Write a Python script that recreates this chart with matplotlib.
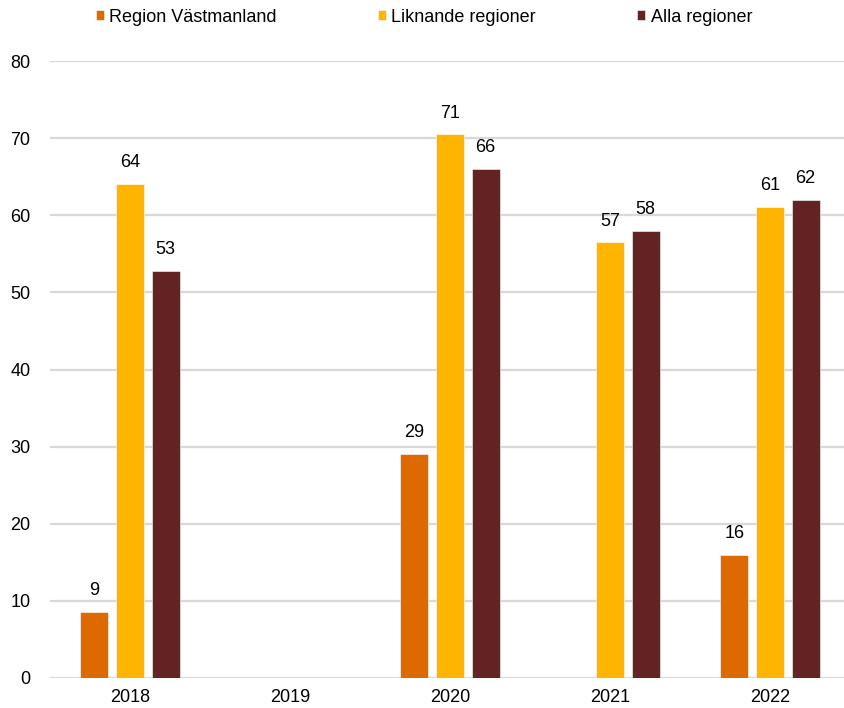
import numpy as np
import matplotlib.pyplot as plt

plt.rcParams['font.family'] = ['Liberation Sans', 'DejaVu Sans']

# data
years = ['2018', '2019', '2020', '2021', '2022']
vastmanland = [8.6, np.nan, 29.1, np.nan, 16.0]
liknande = [64.1, np.nan, 70.5, 56.5, 61.1]
alla = [52.8, np.nan, 66.0, 58.0, 62.0]

series = [('Region Västmanland', vastmanland, '#DD6A00'),
          ('Liknande regioner', liknande, '#FFB500'),
          ('Alla regioner', alla, '#622322')]

fig = plt.figure(figsize=(8.44, 7.08), dpi=100)
ax = fig.add_axes([50/844, 30/708, 800/844, 617/708])

x = np.arange(len(years))
w = 0.175
off = 0.222
for i, (name, vals, col) in enumerate(series):
    vals = np.array(vals, dtype=float)
    bars = ax.bar(x + (i - 1) * off, vals, width=w, color=col, label=name,
                  edgecolor='white', linewidth=0.4, zorder=3)
    labels = ['' if np.isnan(v) else str(int(v + 0.5)) for v in vals]
    ax.bar_label(bars, labels=labels, padding=9, fontsize=13, color='black')

ax.set_xlim(-0.5, 4.5)
ax.set_ylim(0, 80)
ax.set_yticks(range(0, 81, 10))
ax.set_xticks(x)
ax.set_xticklabels(years)
ax.grid(axis='y', color='#D9D9D9', linewidth=1.6, zorder=0)
ax.tick_params(length=0, labelsize=13, colors='black')
ax.tick_params(axis='y', pad=14)
ax.tick_params(axis='x', pad=8)
for s in ax.spines.values():
    s.set_visible(False)

fig.legend(loc='center', bbox_to_anchor=(424/844, 1 - 17/708), ncol=3,
           frameon=False, fontsize=13, handlelength=0.45, handleheight=0.45,
           handletextpad=0.3, columnspacing=5.6, borderaxespad=0)

fig.savefig('out.png', dpi=100)
